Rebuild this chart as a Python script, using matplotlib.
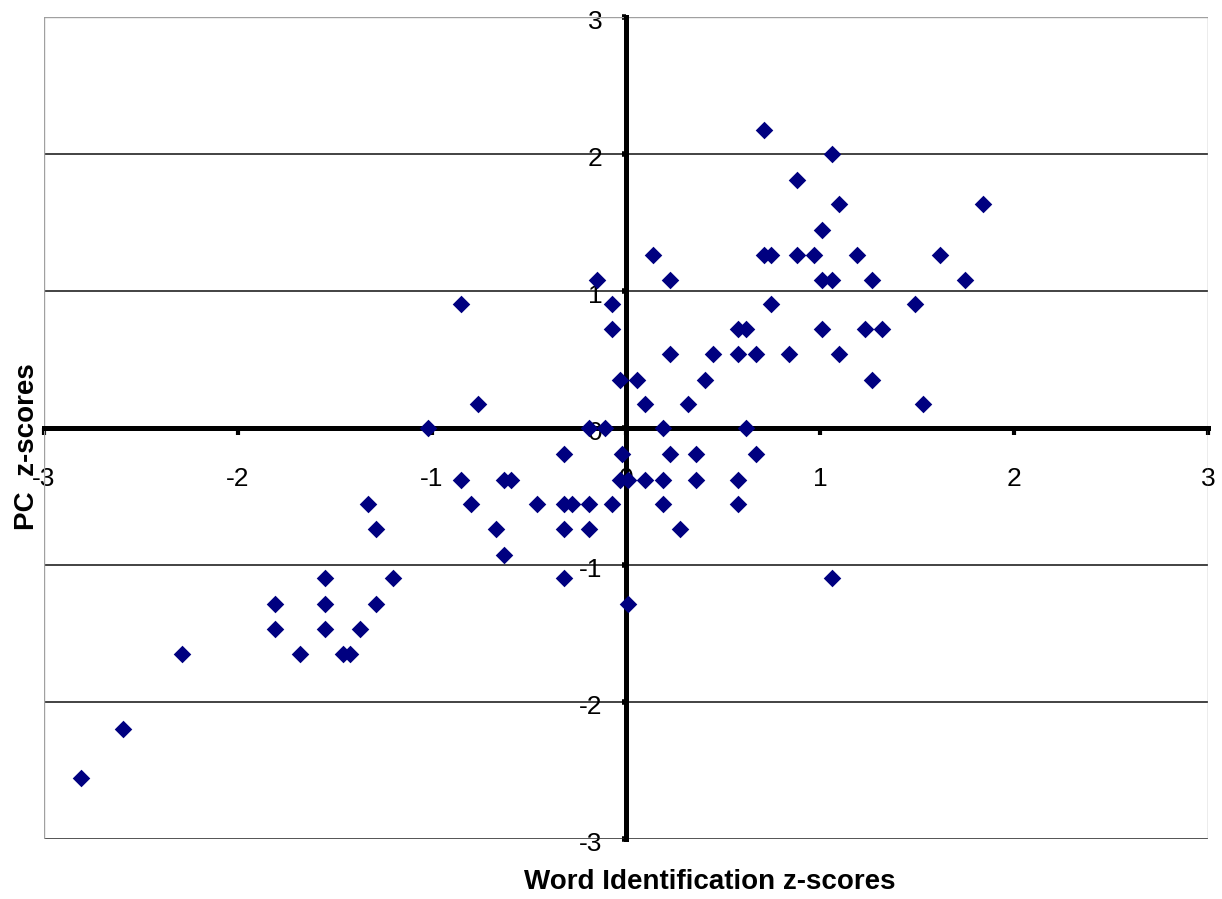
import matplotlib
matplotlib.use('Agg')
import matplotlib.pyplot as plt
import matplotlib.transforms as mtransforms
from matplotlib.patches import Rectangle

plt.rcParams['font.family'] = ['Liberation Sans', 'DejaVu Sans']
plt.rcParams['axes.unicode_minus'] = False

# Word identification z-scores (x) vs PC z-scores (y)
word_z = [0.71, 1.06, 0.88, 1.10, 1.84, 1.01,
          0.14, 0.71, 0.75, 0.88, 0.97, 1.19, 1.62,
          -0.15, 0.23, 1.01, 1.06, 1.27, 1.75,
          -0.85, -0.07, 0.75, 1.49,
          -0.07, 0.58, 0.62, 1.01, 1.23, 1.32,
          0.23, 0.45, 0.58, 0.67, 0.84, 1.10,
          -0.03, 0.06, 0.41, 1.27,
          -0.76, 0.10, 0.32, 1.53,
          -1.02, -0.19, -0.11, 0.19, 0.62,
          -0.32, -0.02, 0.23, 0.36, 0.67,
          -0.85, -0.63, -0.59, -0.03, 0.01, 0.10, 0.19, 0.36, 0.58,
          -1.33, -0.80, -0.46, -0.32, -0.28, -0.19, -0.07, 0.19, 0.58,
          -1.29, -0.67, -0.32, -0.19, 0.28,
          -0.63,
          -1.55, -1.20, -0.32, 1.06,
          -1.81, -1.55, -1.29, 0.01,
          -1.81, -1.55, -1.37,
          -2.29, -1.68, -1.46, -1.42,
          -2.59, -2.81]
pc_z = [2.17, 2.00, 1.81, 1.63, 1.63, 1.44,
        1.26, 1.26, 1.26, 1.26, 1.26, 1.26, 1.26,
        1.08, 1.08, 1.08, 1.08, 1.08, 1.08,
        0.90, 0.90, 0.90, 0.90,
        0.72, 0.72, 0.72, 0.72, 0.72, 0.72,
        0.54, 0.54, 0.54, 0.54, 0.54, 0.54,
        0.35, 0.35, 0.35, 0.35,
        0.17, 0.17, 0.17, 0.17,
        0.0, 0.0, 0.0, 0.0, 0.0,
        -0.19, -0.19, -0.19, -0.19, -0.19,
        -0.38, -0.38, -0.38, -0.38, -0.38, -0.38, -0.38, -0.38, -0.38,
        -0.56, -0.56, -0.56, -0.56, -0.56, -0.56, -0.56, -0.56, -0.56,
        -0.74, -0.74, -0.74, -0.74, -0.74,
        -0.93,
        -1.10, -1.10, -1.10, -1.10,
        -1.29, -1.29, -1.29, -1.29,
        -1.47, -1.47, -1.47,
        -1.65, -1.65, -1.65, -1.65,
        -2.20, -2.56]

ticks = [-3, -2, -1, 0, 1, 2, 3]

fig = plt.figure(figsize=(12.22, 8.99), dpi=100)
ax = fig.add_axes([0.0358, 0.0671, 0.9527, 0.9143])

ax.scatter(word_z, pc_z, marker='D', s=80, color='#000080', linewidths=0,
           zorder=5, clip_on=False)

ax.set_xlim(-3, 3)
ax.set_ylim(-3, 3)
ax.set_xticks(ticks)
ax.set_yticks(ticks)

# axes cross at zero, Excel style
ax.spines['left'].set_position(('data', 0))
ax.spines['bottom'].set_position(('data', 0))
for s in ['left', 'bottom']:
    ax.spines[s].set_linewidth(3.6)
    ax.spines[s].set_zorder(4)
ax.spines['top'].set_visible(False)
ax.spines['right'].set_visible(False)
ax.add_patch(Rectangle((0, 0), 1, 1, transform=ax.transAxes, fill=False,
                       edgecolor='#a0a0a0', linewidth=1, zorder=1))

ax.tick_params(axis='x', direction='out', length=5, width=3, pad=23, labelsize=19)
ax.tick_params(axis='y', direction='out', length=3, width=4, pad=14, labelsize=19)

# Excel puts the y labels a touch below the gridlines
shift = mtransforms.ScaledTranslation(0, -3 / 100, fig.dpi_scale_trans)
for lbl in ax.get_yticklabels():
    lbl.set_transform(lbl.get_transform() + shift)

ax.yaxis.grid(True, color='#222222', linewidth=1.2)
ax.xaxis.grid(False)
ax.set_axisbelow(True)

fig.text(0.581, 1 - 882 / 899, 'Word Identification z-scores', ha='center', va='center',
         fontsize=20, fontweight='bold')
fig.text(0.022, 1 - 447 / 899, 'PC  z-scores', ha='center', va='center', rotation=90,
         fontsize=20, fontweight='bold')

plt.savefig('out.png', dpi=100)
